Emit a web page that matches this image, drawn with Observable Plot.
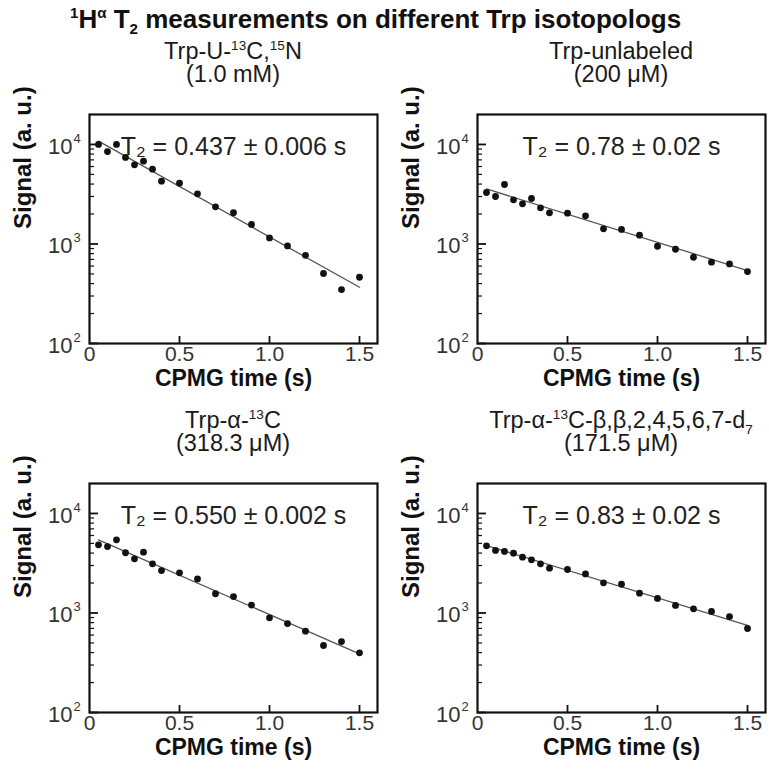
<!DOCTYPE html>
<html><head><meta charset="utf-8">
<script src="https://cdn.jsdelivr.net/npm/d3@7"></script>
<script src="https://cdn.jsdelivr.net/npm/@observablehq/plot@0.6"></script>
<style>
body{margin:0;background:#fff;}
#wrap{position:relative;width:769px;height:773px;overflow:hidden;background:#fff;}
.t{position:absolute;white-space:nowrap;color:#111;font-family:"Liberation Sans",Arial,sans-serif;}
.ptitle{width:400px;text-align:center;font-size:23.5px;line-height:22px;height:22px;color:#1a1a1a;}
sup,sub{font-size:58%;line-height:0;}
.panel{position:absolute;}
</style></head>
<body><div id="wrap"></div>
<script>
// ---- data ----
const times = [0.05,0.1,0.15,0.2,0.25,0.3,0.35,0.4,0.5,0.6,0.7,0.8,0.9,1.0,1.1,1.2,1.3,1.4,1.5];
const sigU13C15N = [10000,8490,10000,7400,6240,6790,5640,4280,4080,3190,2360,2060,1570,1150,957,769,505,348,463];
const sigUnlabeled = [3290,3000,3960,2780,2535,2865,2310,2055,2040,1920,1420,1400,1225,949,885,736,656,631,528];
const sigAlpha13C = [4840,4650,5430,4030,3500,4080,3120,2670,2530,2200,1560,1460,1200,893,783,656,471,516,398];
const sigAlpha13Cd7 = [4730,4250,4150,3990,3640,3420,3120,2820,2735,2470,2010,1945,1580,1400,1190,1100,1035,921,698];
const fitTimes = [0.05, 1.5];
const fitU13C15N = [10800, 367];
const fitUnlabeled = [3580, 541];
const fitAlpha13C = [5430, 389];
const fitAlpha13Cd7 = [4760, 750];
const t2Labels = ["T\u2082 = 0.437 \u00b1 0.006 s","T\u2082 = 0.78 \u00b1 0.02 s","T\u2082 = 0.550 \u00b1 0.002 s","T\u2082 = 0.83 \u00b1 0.02 s"];
const titleLine1 = ["Trp-U-<sup>13</sup>C,<sup>15</sup>N","Trp-unlabeled","Trp-\u03b1-<sup>13</sup>C","Trp-\u03b1-<sup>13</sup>C-\u03b2,\u03b2,2,4,5,6,7-d<sub>7</sub>"];
const titleLine2 = ["(1.0 mM)","(200 \u03bcM)","(318.3 \u03bcM)","(171.5 \u03bcM)"];
const xTicks = [0, 0.5, 1.0, 1.5];
const xTickLabels = ["0","0.5","1.0","1.5"];
const yMajor = [100, 1000, 10000];
const yMajorBase = ["10","10","10"];
const yMajorExp = ["2","3","4"];
const yMinor = [200,300,400,500,600,700,800,900,2000,3000,4000,5000,6000,7000,8000,9000];
const xLabel = "CPMG time (s)";
const yLabel = "Signal (a. u.)";
const mainTitle = "<sup>1</sup>H<sup>\u03b1</sup> T<sub>2</sub> measurements on different Trp isotopologs";

const series = [sigU13C15N, sigUnlabeled, sigAlpha13C, sigAlpha13Cd7];
const fits = [fitU13C15N, fitUnlabeled, fitAlpha13C, fitAlpha13Cd7];

const FONT = '"Liberation Sans",Arial,sans-serif';
const W = 381, H = 370, ML = 89, MR = 4, MT = 84, MB = 57;
const PW = W - ML - MR, PH = H - MT - MB;

function panel(i) {
  const data = times.map((x, j) => ({x, y: series[i][j]}));
  const fit = fitTimes.map((x, j) => ({x, y: fits[i][j]}));
  const yl = yMajor.map((v, j) => ({v, b: yMajorBase[j], e: yMajorExp[j]}));
  const xl = xTicks.map((v, j) => ({v, t: xTickLabels[j]}));
  return Plot.plot({
    width: W, height: H, marginLeft: ML, marginRight: MR, marginTop: MT, marginBottom: MB,
    style: {background: "transparent", overflow: "visible", fontFamily: FONT, color: "#111"},
    x: {domain: [0, 1.6], axis: null},
    y: {type: "log", domain: [100, 20000], axis: null},
    marks: [
      Plot.tickY(yMinor, {y: d => d, insetRight: PW - 5, stroke: "#111", strokeWidth: 1.2}),
      Plot.tickY(yMajor, {y: d => d, insetRight: PW - 9, stroke: "#111", strokeWidth: 1.8}),
      Plot.tickX(xTicks.slice(1), {x: d => d, insetTop: PH - 7, stroke: "#111", strokeWidth: 1.8}),
      Plot.text(xl, {x: "v", text: "t", frameAnchor: "bottom", lineAnchor: "top", dy: 3, fontSize: 21, fill: "#333"}),
      Plot.text(yl, {y: "v", text: "b", frameAnchor: "left", textAnchor: "end", dx: -17, dy: 2, fontSize: 22, fill: "#333"}),
      Plot.text(yl, {y: "v", text: "e", frameAnchor: "left", textAnchor: "start", dx: -16, dy: -6, fontSize: 13, fill: "#333"}),
      Plot.line(fit, {x: "x", y: "y", stroke: "#555", strokeWidth: 1.3}),
      Plot.dot(data, {x: "x", y: "y", r: 3.4, fill: "#111", stroke: "none"}),
      Plot.text([t2Labels[i]], {text: d => d, frameAnchor: "top", dy: 23, fontSize: 25, fill: "#222"}),
      Plot.text([xLabel], {text: d => d, frameAnchor: "bottom", dy: 42, fontSize: 23, fontWeight: "bold", fill: "#111"}),
      Plot.text([yLabel], {text: d => d, frameAnchor: "left", dx: -66, rotate: -90, fontSize: 24, fontWeight: "bold", fill: "#111"}),
      Plot.frame({stroke: "#111", strokeWidth: 2.2})
    ]
  });
}

const wrap = document.getElementById("wrap");
const title = document.createElement("div");
title.className = "t";
title.style.cssText = "left:70px;top:4px;font-size:26px;font-weight:bold;line-height:30px;";
title.innerHTML = mainTitle;
wrap.appendChild(title);

const pos = [[0, 30], [388, 30], [0, 399], [388, 399]];
pos.forEach(([left, top], i) => {
  const svg = panel(i);
  svg.classList.add("panel");
  svg.style.left = left + "px";
  svg.style.top = top + "px";
  wrap.appendChild(svg);
  const cx = left + ML + PW / 2;
  [titleLine1[i], titleLine2[i]].forEach((txt, k) => {
    const pt = document.createElement("div");
    pt.className = "t ptitle";
    pt.style.left = (cx - 200) + "px";
    pt.style.top = (top + 10 + k * 23) + "px";
    pt.innerHTML = txt;
    wrap.appendChild(pt);
  });
});
</script></body></html>
